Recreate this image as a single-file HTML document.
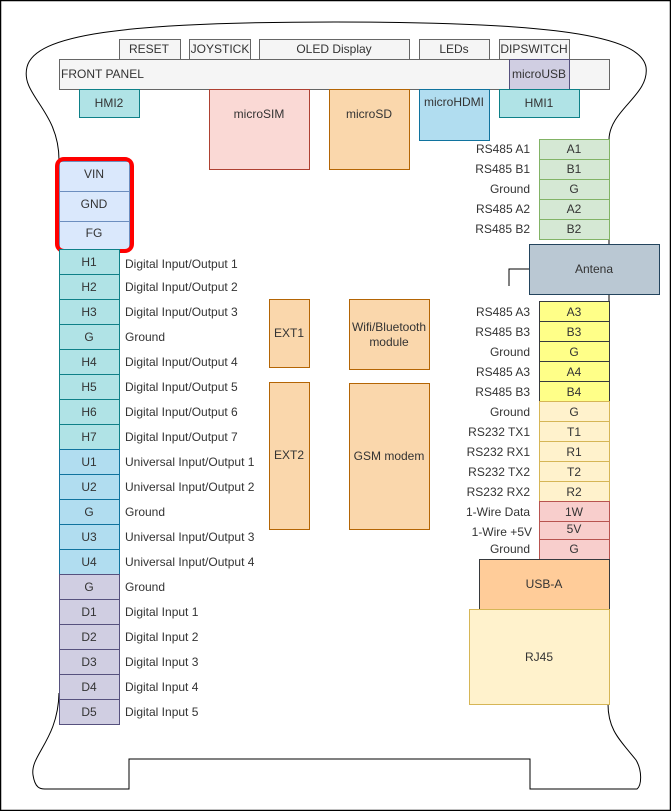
<!DOCTYPE html>
<html><head><meta charset="utf-8"><style>
html,body{margin:0;padding:0;background:#fff}
svg{display:block}
text{font-family:"Liberation Sans",Arial,sans-serif;font-size:12px;fill:#333}
</style></head><body>
<svg width="671" height="811" viewBox="0 0 671 811" xmlns="http://www.w3.org/2000/svg">
<rect x="0.5" y="0.5" width="670" height="810" fill="#fff" stroke="#000" stroke-width="1.5"/>
<!-- outline -->
<path d="M59,160 C59,110 20,95 27,67 C35,35 120,22 335,22 C550,22 640,35 646,67 C650,95 609,110 609,140" fill="none" stroke="#000" stroke-width="1"/>
<path d="M59,693 C58,740 30,755 33,775 C35,788 40,789 45,789 L129,789 L129,759 L530,759 L530,789 L637,789 C642,785 642,770 636,760 C620,740 608,730 608,704" fill="none" stroke="#000" stroke-width="1"/>
<line x1="609" y1="239" x2="609" y2="301" stroke="#000"/>
<polyline points="529,269 509,269 509,286" fill="none" stroke="#000"/>
<!-- top buttons -->
<g stroke="#666" fill="#f5f5f5">
<rect x="119.5" y="39.5" width="61" height="20"/>
<rect x="189.5" y="39.5" width="61" height="20"/>
<rect x="259.5" y="39.5" width="150" height="20"/>
<rect x="419.5" y="39.5" width="70" height="20"/>
<rect x="499.5" y="39.5" width="70" height="20"/>
<rect x="59.5" y="59.5" width="550" height="30"/>
</g>
<text x="149" y="53" text-anchor="middle">RESET</text>
<text x="220" y="53" text-anchor="middle">JOYSTICK</text>
<text x="334" y="53" text-anchor="middle">OLED Display</text>
<text x="454" y="53" text-anchor="middle">LEDs</text>
<text x="534" y="53" text-anchor="middle">DIPSWITCH</text>
<text x="61" y="78">FRONT PANEL</text>
<rect x="509.5" y="59.5" width="60" height="30" fill="#d0cee2" stroke="#56517e"/>
<text x="539" y="78" text-anchor="middle">microUSB</text>
<rect x="79.5" y="89.5" width="60" height="28" fill="#b0e3e6" stroke="#0e8088"/>
<text x="109" y="107" text-anchor="middle">HMI2</text>
<rect x="499.5" y="89.5" width="80" height="28" fill="#b0e3e6" stroke="#0e8088"/>
<text x="539" y="107" text-anchor="middle">HMI1</text>
<rect x="209.5" y="89.5" width="100" height="80" fill="#fad9d5" stroke="#ae4132"/>
<text x="259" y="118" text-anchor="middle">microSIM</text>
<rect x="329.5" y="89.5" width="80" height="80" fill="#fad7ac" stroke="#b46504"/>
<text x="369" y="118" text-anchor="middle">microSD</text>
<rect x="419.5" y="89.5" width="70" height="51" fill="#b1ddf0" stroke="#10739e"/>
<text x="454" y="106" text-anchor="middle">microHDMI</text>
<!-- power -->
<g stroke="#6c8ebf" fill="#dae8fc">
<rect x="59.5" y="161.5" width="70" height="30"/><rect x="59.5" y="191.5" width="70" height="30"/><rect x="59.5" y="221.5" width="70" height="28"/>
</g>
<text x="94" y="178" text-anchor="middle">VIN</text>
<text x="94" y="208" text-anchor="middle">GND</text>
<text x="94" y="237" text-anchor="middle">FG</text>
<rect x="57" y="159" width="75" height="92" rx="7" fill="none" stroke="#ff0000" stroke-width="4"/>
<!-- left pins -->
<g id="left">
<g stroke="#0e8088" fill="#b0e3e6">
<rect x="59.5" y="249.5" width="60" height="25"/><rect x="59.5" y="274.5" width="60" height="25"/><rect x="59.5" y="299.5" width="60" height="25"/><rect x="59.5" y="324.5" width="60" height="25"/><rect x="59.5" y="349.5" width="60" height="25"/><rect x="59.5" y="374.5" width="60" height="25"/><rect x="59.5" y="399.5" width="60" height="25"/><rect x="59.5" y="424.5" width="60" height="25"/>
</g>
<g stroke="#10739e" fill="#b1ddf0">
<rect x="59.5" y="449.5" width="60" height="25"/><rect x="59.5" y="474.5" width="60" height="25"/><rect x="59.5" y="499.5" width="60" height="25"/><rect x="59.5" y="524.5" width="60" height="25"/><rect x="59.5" y="549.5" width="60" height="25"/>
</g>
<g stroke="#56517e" fill="#d0cee2">
<rect x="59.5" y="574.5" width="60" height="25"/><rect x="59.5" y="599.5" width="60" height="25"/><rect x="59.5" y="624.5" width="60" height="25"/><rect x="59.5" y="649.5" width="60" height="25"/><rect x="59.5" y="674.5" width="60" height="25"/><rect x="59.5" y="699.5" width="60" height="25"/>
</g>
</g>
<g text-anchor="middle">
<text x="89" y="266">H1</text><text x="89" y="291">H2</text><text x="89" y="316">H3</text><text x="89" y="341">G</text><text x="89" y="366">H4</text><text x="89" y="391">H5</text><text x="89" y="416">H6</text><text x="89" y="441">H7</text><text x="89" y="466">U1</text><text x="89" y="491">U2</text><text x="89" y="516">G</text><text x="89" y="541">U3</text><text x="89" y="566">U4</text><text x="89" y="591">G</text><text x="89" y="616">D1</text><text x="89" y="641">D2</text><text x="89" y="666">D3</text><text x="89" y="691">D4</text><text x="89" y="716">D5</text>
</g>
<g>
<text x="125" y="268">Digital Input/Output 1</text><text x="125" y="291">Digital Input/Output 2</text><text x="125" y="316">Digital Input/Output 3</text><text x="125" y="341">Ground</text><text x="125" y="366">Digital Input/Output 4</text><text x="125" y="391">Digital Input/Output 5</text><text x="125" y="416">Digital Input/Output 6</text><text x="125" y="441">Digital Input/Output 7</text><text x="125" y="466">Universal Input/Output 1</text><text x="125" y="491">Universal Input/Output 2</text><text x="125" y="516">Ground</text><text x="125" y="541">Universal Input/Output 3</text><text x="125" y="566">Universal Input/Output 4</text><text x="125" y="591">Ground</text><text x="125" y="616">Digital Input 1</text><text x="125" y="641">Digital Input 2</text><text x="125" y="666">Digital Input 3</text><text x="125" y="691">Digital Input 4</text><text x="125" y="716">Digital Input 5</text>
</g>
<!-- middle modules -->
<g stroke="#b46504" fill="#fad7ac">
<rect x="269.5" y="299.5" width="40" height="68"/><rect x="349.5" y="299.5" width="80" height="70"/><rect x="269.5" y="382.5" width="40" height="147"/><rect x="349.5" y="383.5" width="80" height="146"/>
</g>
<text x="289" y="337" text-anchor="middle">EXT1</text>
<text x="389" y="331" text-anchor="middle">Wifi/Bluetooth</text>
<text x="389" y="346" text-anchor="middle">module</text>
<text x="289" y="459" text-anchor="middle">EXT2</text>
<text x="389" y="460" text-anchor="middle">GSM modem</text>
<!-- right pins -->
<g stroke="#82b366" fill="#d5e8d4">
<rect x="539.5" y="139.5" width="70" height="20"/><rect x="539.5" y="159.5" width="70" height="20"/><rect x="539.5" y="179.5" width="70" height="20"/><rect x="539.5" y="199.5" width="70" height="20"/><rect x="539.5" y="219.5" width="70" height="20"/>
</g>
<rect x="529.5" y="244.5" width="130" height="50" fill="#bac8d3" stroke="#23445d"/>
<text x="594" y="273" text-anchor="middle">Antena</text>
<g stroke="#36393d" fill="#ffff88">
<rect x="539.5" y="301.5" width="70" height="20"/><rect x="539.5" y="321.5" width="70" height="20"/><rect x="539.5" y="341.5" width="70" height="20"/><rect x="539.5" y="361.5" width="70" height="20"/><rect x="539.5" y="381.5" width="70" height="20"/>
</g>
<g stroke="#d6b656" fill="#fff2cc">
<rect x="539.5" y="401.5" width="70" height="20"/><rect x="539.5" y="421.5" width="70" height="20"/><rect x="539.5" y="441.5" width="70" height="20"/><rect x="539.5" y="461.5" width="70" height="20"/><rect x="539.5" y="481.5" width="70" height="20"/>
</g>
<g stroke="#b85450" fill="#f8cecc">
<rect x="539.5" y="501.5" width="70" height="20"/><rect x="539.5" y="521.5" width="70" height="18"/><rect x="539.5" y="539.5" width="70" height="20"/>
</g>
<g text-anchor="middle">
<text x="574" y="153">A1</text><text x="574" y="173">B1</text><text x="574" y="193">G</text><text x="574" y="213">A2</text><text x="574" y="233">B2</text>
<text x="574" y="316">A3</text><text x="574" y="336">B3</text><text x="574" y="356">G</text><text x="574" y="376">A4</text><text x="574" y="396">B4</text>
<text x="574" y="416">G</text><text x="574" y="436">T1</text><text x="574" y="456">R1</text><text x="574" y="476">T2</text><text x="574" y="496">R2</text>
<text x="574" y="516">1W</text><text x="574" y="533">5V</text><text x="574" y="553">G</text>
</g>
<g text-anchor="end">
<text x="530" y="153">RS485 A1</text><text x="530" y="173">RS485 B1</text><text x="530" y="193">Ground</text><text x="530" y="213">RS485 A2</text><text x="530" y="233">RS485 B2</text>
<text x="530" y="316">RS485 A3</text><text x="530" y="336">RS485 B3</text><text x="530" y="356">Ground</text><text x="530" y="376">RS485 A3</text><text x="530" y="396">RS485 B3</text>
<text x="530" y="416">Ground</text><text x="530" y="436">RS232 TX1</text><text x="530" y="456">RS232 RX1</text><text x="530" y="476">RS232 TX2</text><text x="530" y="496">RS232 RX2</text>
<text x="530" y="516">1-Wire Data</text><text x="532" y="536">1-Wire +5V</text><text x="530" y="553">Ground</text>
</g>
<rect x="479.5" y="559.5" width="130" height="50" fill="#ffcc99" stroke="#36393d"/>
<text x="544" y="588" text-anchor="middle">USB-A</text>
<rect x="469.5" y="609.5" width="140" height="95" fill="#fff2cc" stroke="#d6b656"/>
<text x="539" y="661" text-anchor="middle">RJ45</text>
</svg>
</body></html>
